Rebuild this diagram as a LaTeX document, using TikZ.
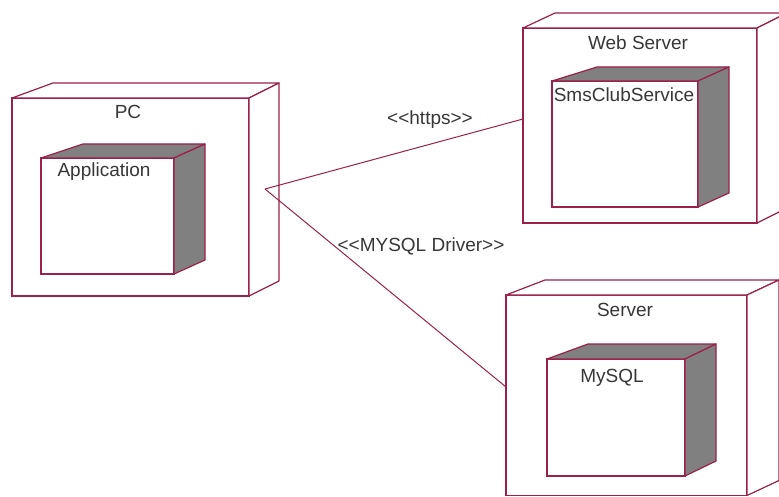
\documentclass[tikz,border=0pt]{standalone}
\usepackage{fontspec}
\setmainfont{Liberation Sans}
\definecolor{edgec}{RGB}{155,32,75}
\definecolor{shadec}{RGB}{128,128,128}
\definecolor{txtc}{RGB}{55,55,55}
\tikzset{
  front/.style 2 args={draw=edgec, line width=1.2pt, fill=white, anchor=north west,
    inner sep=0pt, outer sep=0pt, minimum width=#1, minimum height=#2},
  face/.style={draw=edgec, line width=1.2pt, line join=round},
  lbl/.style={text=txtc, font=\fontsize{19}{22}\selectfont, inner sep=0pt},
  conn/.style={draw=edgec, line width=1pt}
}
% \cubebox{name}{x}{y}{w}{h}{dl}{dr}{dy}{facefill}
\newcommand\cubebox[9]{%
  \node[front={#4pt}{#5pt}] (#1) at (#2,#3) {};
  \draw[face, fill=#9] (#1.north west) -- ++(#6,-#8) -- ([shift={(#7,-#8)}]#1.north east)
     -- (#1.north east) -- cycle;
  \draw[face, fill=#9] (#1.north east) -- ++(#7,-#8) -- ([shift={(#7,-#8)}]#1.south east)
     -- (#1.south east) -- cycle;
}
\begin{document}
\begin{tikzpicture}[x=1pt,y=-1pt]
\useasboundingbox (0,0) rectangle (779,497);
% outer nodes
\cubebox{pc}{12}{98}{237}{198}{41}{30}{15}{white}
\cubebox{web}{523}{28}{234}{195}{32}{30}{15}{white}
\cubebox{srv}{506}{295}{241}{200.5}{39}{32}{15}{white}
% inner components
\cubebox{app}{41}{158}{133}{116}{42}{31}{14}{shadec}
\cubebox{sms}{552}{81}{146}{126}{45}{31}{14}{shadec}
\cubebox{sql}{547}{359}{138}{117}{41}{31}{15}{shadec}
% labels
\node[lbl] (pcl) at (128,112) {PC};
\node[lbl] (appl) at (104,172) {Application};
\node[lbl] (webl) at (638,43) {Web Server};
\node[lbl] (smsl) at (624,95) {SmsClubService};
\node[lbl] (srvl) at (625,310) {Server};
\node[lbl] (sqll) at (612,378) {MySQL};
% connectors
\coordinate (j) at (265,189);
\draw[conn] (j) -- ([yshift=6.5pt]web.west);
\draw[conn] (j) -- ([yshift=-92pt]srv.north west);
\node[lbl] (httpsl) at (430,120) {<{}<https>{}>};
\node[lbl] (mysqll) at (421,246) {<{}<MYSQL Driver>{}>};
\end{tikzpicture}
\end{document}
